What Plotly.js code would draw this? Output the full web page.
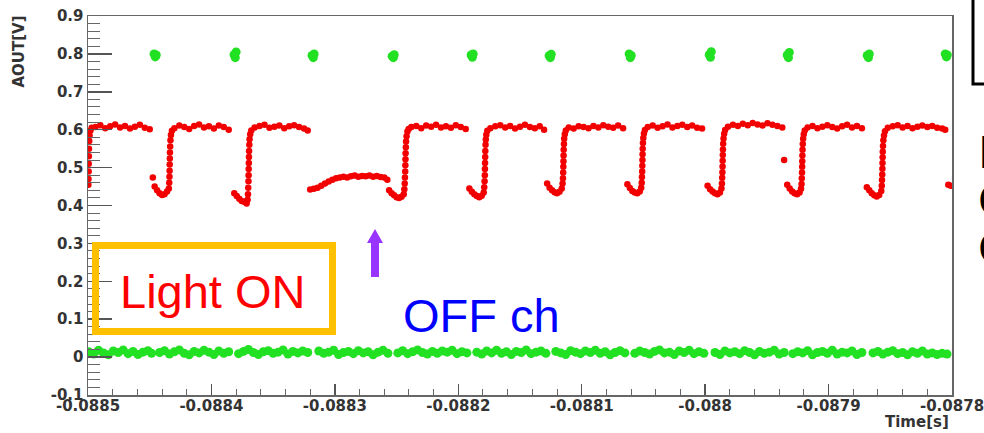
<!DOCTYPE html>
<html>
<head>
<meta charset="utf-8">
<script src="https://cdn.plot.ly/plotly-3.0.1.min.js"></script>
<style>html,body{margin:0;padding:0;background:#fff;}#chart{width:984px;height:433px;}</style>
</head>
<body>
<div id="chart"></div>
<script>
// Time axis origin (s); data times are given in microseconds after this origin
const T0 = -0.0885;

// X tick values / labels
const xTickVals = [-0.0885, -0.0884, -0.0883, -0.0882, -0.0881, -0.0880, -0.0879, -0.0878];
const xTickText = ["-0.0885", "-0.0884", "-0.0883", "-0.0882", "-0.0881", "-0.088", "-0.0879", "-0.0878"];
// Y tick values / labels
const yTickVals = [0.9, 0.8, 0.7, 0.6, 0.5, 0.4, 0.3, 0.2, 0.1, 0, -0.1];
const yTickText = ["0.9", "0.8", "0.7", "0.6", "0.5", "0.4", "0.3", "0.2", "0.1", "0", "-0.1"];

// Red channel (light ON): time in µs after T0, AOUT in V
const redT = [
0.3,0.4,0.5,0.6,0.7,0.8,1.0,1.3,2,3,
6,10,14,18,22,26,30,34,38,42,46,50,
52.5,
54,56,58,60,62,64,
65.5,65.8,66,66.1,66.2,66.3,66.4,66.6,66.8,67.2,68,
70,74,78,82,86,90,94,98,102,106,110,114,
118.5,120.5,122.5,124.5,126.5,128.5,129.3,
129.6,129.8,130,130.1,130.2,130.3,130.4,130.5,130.7,130.9,131.4,132.3,
135,139,143,147,151,155,159,163,167,171,175,178,
180,183,186,189,192,195,198,201,204,207,210,213,216,219,222,225,228,231,234,237,240,242.5,
244,246,248,250,252,254,255.8,
256.3,256.6,256.8,257,257.1,257.2,257.3,257.5,257.7,258.1,258.8,259.8,
262,266,270,274,278,282,286,290,294,298,302,306,
309,311,313,315,317,319,320.6,
321,321.3,321.5,321.6,321.7,321.8,321.9,322.1,322.3,322.7,323.5,
326,330,334,338,342,346,350,354,358,362,366,369.5,
372,374,376,378,380,382,383.8,
384.5,384.8,385,385.1,385.2,385.3,385.4,385.6,385.8,386.3,387.1,
389.5,393.5,397.5,401.5,405.5,409.5,413.5,417.5,421.5,425.5,429.5,433.5,
437,439,441,443,445,447,448.2,
448.6,448.8,449,449.1,449.2,449.3,449.4,449.6,449.9,450.4,451.2,
453.5,457.5,461.5,465.5,469.5,473.5,477.5,481.5,485.5,489.5,493.5,497.5,
502,504,506,508,510,512,513.2,
513.6,513.8,514,514.1,514.2,514.3,514.4,514.6,514.9,515.4,516.2,
518.5,522.5,526.5,530.5,534.5,538.5,542.5,546.5,550.5,554.5,558.5,562.5,
564,
566.5,568.5,570.5,572.5,574.5,576.5,577.7,
578.1,578.3,578.5,578.6,578.7,578.8,578.9,579.1,579.4,579.9,580.7,
583,587,591,595,599,603,607,611,615,619,623,627,
631,633,635,637,639,641,642.7,
643.1,643.3,643.5,643.6,643.7,643.8,643.9,644.1,644.4,644.9,645.7,
648,652,656,660,664,668,672,676,680,684,688,692,
694.5,697,699
];
const redV = [
0.455,0.47,0.49,0.51,0.53,0.55,0.57,0.585,0.598,0.605,
0.607,0.612,0.604,0.609,0.614,0.606,0.61,0.603,0.608,0.613,0.605,0.601,
0.474,
0.45,0.44,0.432,0.428,0.43,0.437,
0.445,0.46,0.476,0.492,0.508,0.524,0.54,0.556,0.572,0.586,0.597,
0.604,0.611,0.607,0.602,0.61,0.614,0.606,0.609,0.603,0.611,0.607,0.6,
0.432,0.425,0.418,0.412,0.41,0.405,0.415,
0.43,0.447,0.464,0.48,0.496,0.512,0.528,0.544,0.56,0.575,0.588,0.598,
0.606,0.61,0.613,0.605,0.608,0.611,0.604,0.609,0.612,0.607,0.603,0.598,
0.442,0.444,0.447,0.452,0.458,0.463,0.468,0.472,0.474,0.476,0.474,0.477,0.479,0.476,0.478,0.477,0.479,0.476,0.478,0.475,0.474,0.468,
0.44,0.432,0.427,0.422,0.42,0.423,0.43,
0.443,0.458,0.474,0.49,0.506,0.522,0.538,0.554,0.569,0.583,0.595,0.602,
0.607,0.61,0.604,0.611,0.608,0.613,0.606,0.609,0.605,0.612,0.607,0.602,
0.445,0.436,0.43,0.425,0.422,0.426,0.434,
0.448,0.464,0.48,0.496,0.512,0.528,0.544,0.56,0.574,0.587,0.597,
0.604,0.609,0.612,0.606,0.61,0.603,0.608,0.613,0.607,0.604,0.609,0.6,
0.458,0.447,0.44,0.435,0.432,0.436,0.445,
0.458,0.472,0.487,0.502,0.517,0.532,0.547,0.562,0.576,0.588,0.598,
0.606,0.603,0.609,0.607,0.604,0.61,0.606,0.612,0.608,0.605,0.611,0.604,
0.456,0.446,0.438,0.434,0.432,0.437,0.447,
0.46,0.475,0.49,0.505,0.52,0.535,0.55,0.565,0.578,0.59,0.599,
0.607,0.611,0.605,0.609,0.614,0.606,0.61,0.613,0.607,0.611,0.605,0.603,
0.452,0.443,0.437,0.432,0.43,0.434,0.445,
0.458,0.473,0.488,0.503,0.518,0.533,0.548,0.563,0.577,0.589,0.599,
0.608,0.613,0.61,0.616,0.612,0.618,0.614,0.611,0.617,0.613,0.61,0.606,
0.52,
0.455,0.445,0.437,0.432,0.43,0.434,0.444,
0.457,0.472,0.487,0.502,0.517,0.532,0.547,0.562,0.576,0.588,0.598,
0.606,0.61,0.604,0.608,0.612,0.607,0.603,0.609,0.613,0.606,0.61,0.604,
0.448,0.44,0.432,0.427,0.424,0.428,0.438,
0.452,0.467,0.482,0.497,0.512,0.527,0.542,0.557,0.572,0.585,0.596,
0.605,0.609,0.612,0.606,0.61,0.604,0.608,0.611,0.607,0.61,0.605,0.603,
0.6,0.455,0.452
];

// Green channel, baseline band: time in µs after T0, AOUT in V
const greenBandT = [
0.5,4.5,8.5,12.5,16.5,20.5,24.5,28.5,32.5,36.5,40.5,44.5,48.5,51.5,
58,62,66,70,74,78,82,86,90,94,98,102,106,110,114,
122,126,130,134,138,142,146,150,154,158,162,166,170,174,178,
187,191,195,199,203,207,211,215,219,223,227,231,235,239,243,
251,255,259,263,267,271,275,279,283,287,291,295,299,303,307,
315,319,323,327,331,335,339,343,347,351,355,359,363,367,371,
379,383,387,391,395,399,403,407,411,415,419,423,427,431,435,
443,447,451,455,459,463,467,471,475,479,483,487,491,495,499,
508,512,516,520,524,528,532,536,540,544,548,552,556,560,564,
571,575,579,583,587,591,595,599,603,607,611,615,619,623,627,
636,640,644,648,652,656,660,664,668,672,676,680,684,688,692,696
];
const greenBandV = [
0.014,0.008,0.018,0.011,0.006,0.016,0.012,0.019,0.009,0.015,0.007,0.013,0.017,0.01,
0.012,0.017,0.008,0.014,0.019,0.01,0.006,0.015,0.011,0.018,0.013,0.007,0.016,0.01,0.014,
0.009,0.015,0.02,0.012,0.007,0.014,0.017,0.01,0.013,0.019,0.008,0.015,0.011,0.016,0.012,
0.016,0.01,0.013,0.018,0.007,0.012,0.015,0.009,0.017,0.011,0.014,0.006,0.013,0.018,0.01,
0.011,0.017,0.009,0.014,0.019,0.012,0.008,0.015,0.01,0.016,0.013,0.018,0.009,0.014,0.011,
0.013,0.008,0.016,0.011,0.018,0.01,0.014,0.007,0.015,0.012,0.019,0.009,0.013,0.016,0.01,
0.015,0.011,0.007,0.017,0.013,0.009,0.016,0.012,0.018,0.01,0.014,0.006,0.012,0.017,0.011,
0.01,0.016,0.012,0.008,0.015,0.019,0.011,0.013,0.007,0.016,0.012,0.018,0.009,0.014,0.01,
0.012,0.007,0.016,0.011,0.014,0.009,0.017,0.012,0.006,0.015,0.01,0.013,0.018,0.008,0.012,
0.009,0.014,0.011,0.017,0.006,0.012,0.015,0.01,0.018,0.008,0.013,0.011,0.016,0.007,0.012,
0.011,0.015,0.008,0.013,0.017,0.009,0.012,0.006,0.014,0.01,0.016,0.008,0.011,0.007,0.01,0.008
];

// Green channel, short pulses near 0.8 V
const greenPeakT = [
53.5,54.5,55.3, 118.3,119.3,120, 181.5,182.5,183.2, 246.4,247.4,248.1,
310.4,311.4,312.1, 373.6,374.6,375.3, 438.4,439.4,440.1, 503.3,504.3,505,
566.5,567.5,568.2, 631.3,632.3,633, 694.5,695.5,696.2
];
const greenPeakV = [
0.8,0.792,0.797, 0.798,0.79,0.805, 0.796,0.79,0.8, 0.794,0.79,0.798,
0.797,0.791,0.8, 0.795,0.79,0.799, 0.8,0.79,0.796, 0.798,0.791,0.806,
0.797,0.79,0.804, 0.796,0.79,0.8, 0.8,0.792,0.797
];

const toSec = arr => arr.map(t => T0 + t * 1e-6);

const RED = '#f20000';
const GREEN = '#22e022';

const traces = [
  { x: toSec(greenBandT), y: greenBandV, type: 'scatter', mode: 'markers',
    marker: { color: GREEN, size: 9, line: { width: 0 } }, hoverinfo: 'skip', showlegend: false },
  { x: toSec(greenPeakT), y: greenPeakV, type: 'scatter', mode: 'markers',
    marker: { color: GREEN, size: 9, line: { width: 0 } }, hoverinfo: 'skip', showlegend: false },
  { x: toSec(redT), y: redV, type: 'scatter', mode: 'markers',
    marker: { color: RED, size: 6.5, line: { width: 0 } }, hoverinfo: 'skip', showlegend: false }
];

const tickFont = { family: 'DejaVu Sans', size: 15, color: '#333', weight: 'bold' };
const bigFont = 'Liberation Sans, Arial, sans-serif';

const layout = {
  width: 984, height: 433,
  margin: { l: 88, r: 32, t: 16, b: 38 },
  paper_bgcolor: '#ffffff', plot_bgcolor: '#ffffff',
  showlegend: false,
  xaxis: {
    range: [-0.0885, -0.0878], tickmode: 'array', tickvals: xTickVals, ticktext: xTickText,
    showgrid: false, zeroline: false, showline: true, mirror: true,
    linecolor: '#666', linewidth: 1.5,
    ticks: 'inside', ticklen: 11, tickwidth: 1.5, tickcolor: '#555',
    minor: { tick0: -0.0885, dtick: 0.00002, ticks: 'inside', ticklen: 6, tickwidth: 1, tickcolor: '#666' },
    tickfont: tickFont, ticklabeloverflow: 'allow', ticklabelstandoff: -4
  },
  yaxis: {
    range: [-0.1, 0.9], tickmode: 'array', tickvals: yTickVals, ticktext: yTickText,
    showgrid: false, zeroline: false, showline: true, mirror: true,
    linecolor: '#666', linewidth: 1.5,
    ticks: 'inside', ticklen: 24, tickwidth: 1.5, tickcolor: '#555',
    minor: { tick0: 0, dtick: 0.02, ticks: 'inside', ticklen: 12, tickwidth: 1, tickcolor: '#666' },
    tickfont: tickFont, ticklabeloverflow: 'allow'
  },
  shapes: [
    { type: 'rect', xref: 'paper', yref: 'paper', x0: 0.00868, x1: 0.283, y0: 0.1675, y1: 0.3945,
      line: { color: '#FFC000', width: 7 }, fillcolor: 'rgba(0,0,0,0)' },
    { type: 'path', xref: 'paper', yref: 'paper',
      path: 'M 0.32755 0.31135 L 0.33681 0.31135 L 0.33681 0.40106 L 0.34144 0.40106 L 0.33218 0.43799 L 0.32292 0.40106 L 0.32755 0.40106 Z',
      fillcolor: '#9933FF', line: { width: 0 } },
    { type: 'rect', xref: 'paper', yref: 'paper', x0: 1.0243, x1: 1.2, y0: 0.8206, y1: 1.2,
      line: { color: '#000', width: 3 }, fillcolor: 'rgba(0,0,0,0)' }
  ],
  annotations: [
    { text: 'AOUT[V]', xref: 'paper', yref: 'paper', x: -0.0804, y: 0.905, textangle: -90,
      showarrow: false, xanchor: 'center', yanchor: 'middle', font: tickFont },
    { text: 'Time[s]', xref: 'paper', yref: 'paper', x: 0.9595, y: -0.071,
      showarrow: false, xanchor: 'center', yanchor: 'middle', font: tickFont },
    { text: 'Light ON', xref: 'paper', yref: 'paper', x: 0.1441, y: 0.2744,
      showarrow: false, xanchor: 'center', yanchor: 'middle', font: { family: bigFont, size: 47, color: '#FF0000' } },
    { text: 'OFF ch', xref: 'paper', yref: 'paper', x: 0.4554, y: 0.2092,
      showarrow: false, xanchor: 'center', yanchor: 'middle', font: { family: bigFont, size: 47, color: '#0000FF' } },
    { text: 'I', xref: 'paper', yref: 'paper', x: 1.0278, y: 0.642,
      showarrow: false, xanchor: 'left', yanchor: 'middle', font: { family: bigFont, size: 47, color: '#000' } },
    { text: 'C', xref: 'paper', yref: 'paper', x: 1.0278, y: 0.5153,
      showarrow: false, xanchor: 'left', yanchor: 'middle', font: { family: bigFont, size: 47, color: '#000' } },
    { text: 'C', xref: 'paper', yref: 'paper', x: 1.0278, y: 0.3887,
      showarrow: false, xanchor: 'left', yanchor: 'middle', font: { family: bigFont, size: 47, color: '#000' } }
  ]
};

Plotly.newPlot('chart', traces, layout, { staticPlot: true, displayModeBar: false });
</script>
</body>
</html>
